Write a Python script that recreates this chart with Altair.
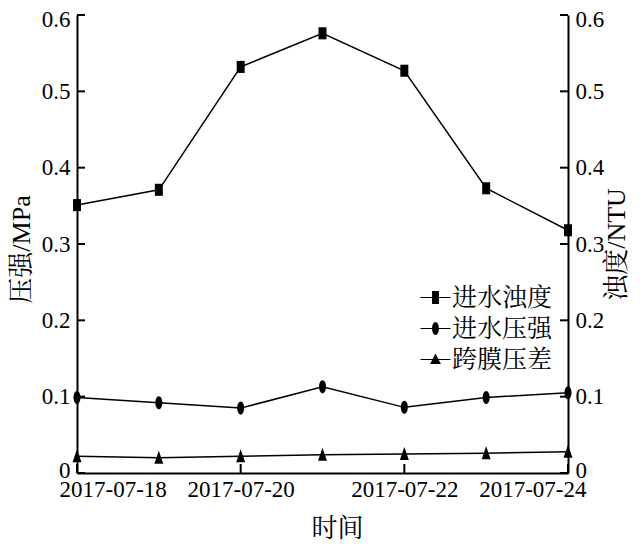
import altair as alt
import pandas as pd

# ---------------- data ----------------
dates = ["2017-07-18", "2017-07-19", "2017-07-20", "2017-07-21",
         "2017-07-22", "2017-07-23", "2017-07-24"]
turbidity = [0.351, 0.371, 0.532, 0.576, 0.527, 0.373, 0.318]   # 进水浊度 (NTU, right axis)
pressure = [0.099, 0.092, 0.085, 0.113, 0.086, 0.099, 0.105]    # 进水压强 (MPa)
tmp = [0.022, 0.020, 0.022, 0.024, 0.025, 0.026, 0.028]         # 跨膜压差 (MPa)
series_names = ["进水浊度", "进水压强", "跨膜压差"]
x_ticks = ["2017-07-18", "2017-07-20", "2017-07-22", "2017-07-24"]
y_ticks = [0, 0.1, 0.2, 0.3, 0.4, 0.5, 0.6]

rows = []
for name, vals in zip(series_names, [turbidity, pressure, tmp]):
    for d, v in zip(dates, vals):
        rows.append({"date": d, "series": name, "value": v})
df = pd.DataFrame(rows)
df_xt = pd.DataFrame({"date": x_ticks})
df_yt = pd.DataFrame({"value": y_ticks})

FONT = "Times New Roman, Liberation Serif, Noto Serif CJK SC, Noto Sans CJK SC"
W, H = 491, 458
TICK = 8

# marker paths (tall shapes as in reference)
RECT = "M-0.57,-0.86H0.57V0.86H-0.57Z"
ELLIPSE = "M0,-0.93A0.5,0.93 0 1,1 0,0.93A0.5,0.93 0 1,1 0,-0.93Z"
TRI = "M0,-1L0.64,0.86H-0.64Z"
# legend symbols: marker with a (filled, thin) line stub through it
STUB = "M-1,-0.04H1V0.04H-1Z"
L_RECT = STUB + "M-0.23,-0.43H0.23V0.43H-0.23Z"
L_ELL = STUB + "M0,-0.43A0.23,0.43 0 1,1 0,0.43A0.23,0.43 0 1,1 0,-0.43Z"
L_TRI = STUB + "M0,-0.4L0.36,0.3H-0.36Z"


def dt(s):
    y, m, d = (int(p) for p in s.split("-"))
    return alt.DateTime(year=y, month=m, date=d, utc=True)


x_scale = alt.Scale(type="utc", nice=False, padding=0,
                    domain=[dt(dates[0]), dt(dates[-1])])
x_axis = alt.Axis(values=[dt(s) for s in x_ticks], format="%Y-%m-%d",
                  labelFlush=True, labelFlushOffset=18,
                  ticks=False, labelPadding=5,
                  titleX=260, titleY=55, titleAlign="center", titleBaseline="middle")
x_enc = alt.X("date:T", title="时间", scale=x_scale, axis=x_axis)

Y_LABEL_OFFSET = {"expr": "datum.value >= 0.59 ? 4 : (datum.value == 0 ? -3 : 0)"}

y_scale = alt.Scale(domain=[0, 0.6], nice=False, zero=True)
y_left = alt.Y("value:Q", title="压强/MPa", scale=y_scale,
               axis=alt.Axis(orient="left", values=y_ticks, format="~g",
                             ticks=False, labelPadding=7, labelOffset=Y_LABEL_OFFSET,
                             titleAngle=270, titleX=-56, titleY=234,
                             titleAlign="center", titleBaseline="middle"))
y_right = alt.Y("value:Q", title="浊度/NTU", scale=y_scale,
                axis=alt.Axis(orient="right", values=y_ticks, format="~g",
                              ticks=False, labelPadding=7, labelOffset=Y_LABEL_OFFSET,
                              titleAngle=270, titleX=48, titleY=229,
                              titleAlign="center", titleBaseline="middle"))

base = alt.Chart(df)


def series_layers(name, shape, y):
    sub = base.transform_filter(alt.datum.series == name)
    line = sub.mark_line(color="black", strokeWidth=1.5).encode(x=x_enc, y=y)
    pts = sub.mark_point(shape=shape, size=196, filled=True, color="black",
                         opacity=1).encode(x=x_enc, y=y)
    return [line, pts]


legend_layer = base.mark_point(filled=True, color="black", opacity=0).encode(
    x=x_enc, y=y_left,
    shape=alt.Shape("series:N",
                    scale=alt.Scale(domain=series_names, range=[L_RECT, L_ELL, L_TRI]),
                    legend=alt.Legend(title=None, orient="none", legendX=343, legendY=267,
                                      symbolSize=900, symbolFillColor="black",
                                      symbolStrokeColor="black", symbolStrokeWidth=0.5,
                                      symbolOpacity=1, labelFont=FONT, labelFontSize=25,
                                      labelColor="black", labelOffset=1, rowPadding=2,
                                      padding=0)),
)

# inward-pointing tick marks
yticks_left = alt.Chart(df_yt).mark_rule(color="black", strokeWidth=2).encode(
    y=y_left, x=alt.value(0), x2=alt.value(TICK))
yticks_right = alt.Chart(df_yt).mark_rule(color="black", strokeWidth=2).encode(
    y=y_right, x=alt.value(W - TICK), x2=alt.value(W))
xticks = alt.Chart(df_xt).mark_rule(color="black", strokeWidth=2).encode(
    x=x_enc, y=alt.value(H - TICK - 1), y2=alt.value(H))

left = alt.layer(*series_layers("进水压强", ELLIPSE, y_left),
                 *series_layers("跨膜压差", TRI, y_left),
                 legend_layer, yticks_left, xticks)
right = alt.layer(*series_layers("进水浊度", RECT, y_right), yticks_right)

chart = alt.layer(left, right).resolve_scale(y="independent").properties(
    width=W, height=H,
    autosize=alt.AutoSizeParams(type="none"),
    padding={"left": 69, "top": 7, "right": 64, "bottom": 68},
).configure_view(stroke=None).configure_axis(
    domainColor="black", domainWidth=2,
    labelColor="black", labelFont=FONT, labelFontSize=23,
    titleFont=FONT, titleFontSize=26, titleColor="black", titleFontWeight="normal",
    grid=False,
)

chart.save("out.html", embed_options={"renderer": "svg", "actions": False})
